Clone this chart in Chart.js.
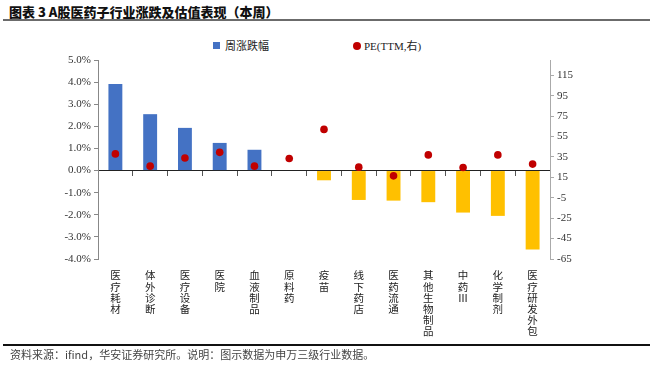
<!DOCTYPE html>
<html>
<head>
<meta charset="utf-8">
<script src="https://cdn.jsdelivr.net/npm/chart.js@4"></script>
<style>
    html, body { margin: 0; padding: 0; background: #fff; }
    #wrap { position: relative; width: 666px; height: 367px; overflow: hidden; }
    #chart { position: absolute; left: 0; top: 0; }
    .title { position: absolute; left: 9px; top: 2px; font: 900 13px "Noto Sans CJK SC", sans-serif; color: #111; white-space: nowrap; }
    .title-line { position: absolute; left: 3px; top: 19px; width: 647px; height: 2px; background: #6b6b6b; }
    .foot-line { position: absolute; left: 3px; top: 344px; width: 647px; height: 1.5px; background: #111; }
    .foot { position: absolute; left: 10px; top: 346px; font: 11px "Noto Sans CJK SC", sans-serif; color: #444; white-space: nowrap; }
    .legend { position: absolute; top: 37px; font: 11px "Liberation Serif", "Noto Sans CJK SC", serif; color: #222; white-space: nowrap; }
    .legend .sq { display: inline-block; width: 7px; height: 7px; background: #4472C4; margin-right: 5px; vertical-align: 1px; }
    .legend .dot { display: inline-block; width: 8px; height: 8px; border-radius: 50%; background: #C00000; margin-right: 3px; vertical-align: 0px; }
</style>
</head>
<body>
<div id="wrap">
    <div class="title">图表 3 A股医药子行业涨跌及估值表现（本周）</div>
    <div class="title-line"></div>
    <div class="legend" style="left:213px"><span class="sq"></span>周涨跌幅</div>
    <div class="legend" style="left:353px"><span class="dot"></span>PE(TTM,右)</div>
    <canvas id="chart" width="666" height="367"></canvas>
    <div class="foot-line"></div>
    <div class="foot">资料来源：ifind，华安证券研究所。说明：图示数据为申万三级行业数据。</div>
</div>
<script>
// A股医药子行业 周涨跌幅 与 PE(TTM)
const categories = ['医疗耗材', '体外诊断', '医疗设备', '医院', '血液制品', '原料药', '疫苗',
    '线下药店', '医药流通', '其他生物制品', '中药Ⅲ', '化学制剂', '医疗研发外包'];
const weeklyChange = [3.92, 2.55, 1.93, 1.25, 0.94, 0.0, -0.44, -1.33, -1.36, -1.43, -1.90, -2.05, -3.57];
const peTTM = [38, 26, 34, 39.5, 26, 33.5, 62, 25, 16.5, 37, 24.7, 37, 28];
const pctTicks = [-4, -3, -2, -1, 0, 1, 2, 3, 4, 5];
const peTicks = [-65, -45, -25, -5, 15, 35, 55, 75, 95, 115];

const serif = '"Liberation Serif", "Times New Roman", serif';

// vertical labels: one character per line
const verticalLabels = categories.map(c => Array.from(c));

const ctx = document.getElementById('chart').getContext('2d');

new Chart(ctx, {
    type: 'bar',
    data: {
        labels: verticalLabels,
        datasets: [
            {
                type: 'line',
                label: 'PE(TTM,右)',
                data: peTTM,
                yAxisID: 'y1',
                xAxisID: 'x',
                showLine: false,
                pointRadius: 3.8,
                pointHoverRadius: 3.8,
                pointBackgroundColor: '#C00000',
                pointBorderWidth: 0,
                borderColor: '#C00000',
                order: 0,
            },
            {
                label: '周涨跌幅',
                data: weeklyChange,
                yAxisID: 'y',
                xAxisID: 'x',
                backgroundColor: weeklyChange.map(v => (v >= 0 ? '#4472C4' : '#FFC000')),
                borderWidth: 0,
                barPercentage: 0.4,
                categoryPercentage: 1,
                order: 1,
            },
        ],
    },
    options: {
        responsive: false,
        animation: false,
        layout: { padding: { top: 60, left: 0, right: 0, bottom: 0 } },
        plugins: {
            legend: { display: false },
            tooltip: { enabled: false },
        },
        scales: {
            x: {
                position: { y: 0 },
                offset: true,
                ticks: { display: false },
                grid: { drawOnChartArea: false, drawTicks: true, tickLength: 5, offset: true, color: '#555' },
                border: { display: true, color: '#222', width: 1 },
            },
            x2: {
                type: 'category',
                position: 'bottom',
                offset: true,
                grid: { display: false },
                border: { display: false },
                ticks: {
                    maxRotation: 0,
                    autoSkip: false,
                    padding: 3,
                    color: '#222',
                    font: { family: '"Noto Sans CJK SC", sans-serif', size: 10.5, lineHeight: 1.05 },
                },
                afterFit: (scale) => { scale.height = 108; },
            },
            y: {
                position: 'left',
                min: -4,
                max: 5,
                afterBuildTicks: (scale) => { scale.ticks = pctTicks.map(v => ({ value: v })); },
                ticks: {
                    padding: 3,
                    color: '#333',
                    font: { family: serif, size: 11 },
                    callback: (v) => v.toFixed(1) + '%',
                },
                grid: { drawOnChartArea: false, drawTicks: true, tickLength: 4, color: '#888' },
                border: { color: '#888', width: 1 },
                afterFit: (scale) => { scale.width = 98; },
            },
            y1: {
                position: 'right',
                min: -65,
                max: 130,
                afterBuildTicks: (scale) => { scale.ticks = peTicks.map(v => ({ value: v })); },
                ticks: {
                    padding: 3,
                    color: '#333',
                    font: { family: serif, size: 11 },
                },
                grid: { drawOnChartArea: false, drawTicks: true, tickLength: 4, color: '#aaa' },
                border: { color: '#aaa', width: 1 },
                afterFit: (scale) => { scale.width = 116; },
            },
        },
    },
});
</script>
</body>
</html>
